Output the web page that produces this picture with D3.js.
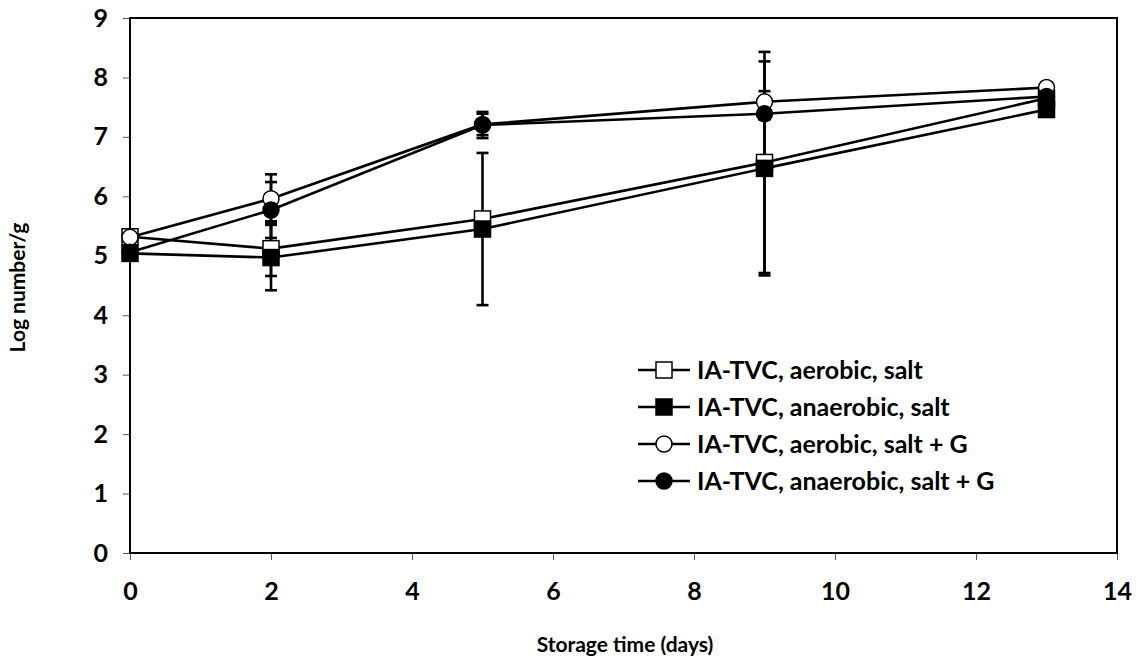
<!DOCTYPE html>
<html>
<head>
<meta charset="utf-8">
<script src="https://cdn.jsdelivr.net/npm/d3@7"></script>
<style>
  body { margin: 0; background: #fff; }
  svg text { font-family: Lato, "Open Sans", sans-serif; font-weight: 700; fill: #000; }
</style>
</head>
<body>
<svg id="chart" width="1138" height="660"></svg>
<script>
// Storage days sampled
const days = [0, 2, 5, 9, 13];

// Mean log counts (log number/g) per treatment
const aerobicSalt      = [5.32, 5.12, 5.62, 6.57, 7.65];
const anaerobicSalt    = [5.04, 4.97, 5.45, 6.47, 7.46];
const aerobicSaltG     = [5.31, 5.96, 7.21, 7.59, 7.83];
const anaerobicSaltG   = [5.06, 5.77, 7.20, 7.39, 7.68];

// Standard deviations (error bars)
const aerobicSaltErr    = [0.08, 0.46, 0.05, 1.86, 0.05];
const anaerobicSaltErr  = [0.05, 0.55, 1.28, 1.80, 0.05];
const aerobicSaltGErr   = [0.05, 0.41, 0.18, 0.18, 0.05];
const anaerobicSaltGErr = [0.05, 0.47, 0.22, 0.10, 0.05];

const seriesNames = [
  "IA-TVC, aerobic, salt",
  "IA-TVC, anaerobic, salt",
  "IA-TVC, aerobic, salt + G",
  "IA-TVC, anaerobic, salt + G"
];

const xTicks = [0, 2, 4, 6, 8, 10, 12, 14];
const yTicks = [0, 1, 2, 3, 4, 5, 6, 7, 8, 9];

const series = [
  { name: seriesNames[0], values: aerobicSalt,    err: aerobicSaltErr,    shape: "square", filled: false },
  { name: seriesNames[1], values: anaerobicSalt,  err: anaerobicSaltErr,  shape: "square", filled: true },
  { name: seriesNames[2], values: aerobicSaltG,   err: aerobicSaltGErr,   shape: "circle", filled: false },
  { name: seriesNames[3], values: anaerobicSaltG, err: anaerobicSaltGErr, shape: "circle", filled: true }
];

const svg = d3.select("#chart");
const plot = { left: 130, right: 1117, top: 18, bottom: 553 };

const x = d3.scaleLinear().domain([0, 14]).range([plot.left, plot.right]);
const y = d3.scaleLinear().domain([0, 9]).range([plot.bottom, plot.top]);

// Axes with outward ticks
const xAxis = svg.append("g")
  .attr("transform", `translate(0,${plot.bottom})`)
  .call(d3.axisBottom(x).tickValues(xTicks).tickSize(7).tickPadding(22).tickFormat(d3.format("d")));
const yAxis = svg.append("g")
  .attr("transform", `translate(${plot.left},0)`)
  .call(d3.axisLeft(y).tickValues(yTicks).tickSize(7).tickPadding(15).tickFormat(d3.format("d")));

[xAxis, yAxis].forEach(g => {
  g.select(".domain").remove();
  g.selectAll(".tick line").attr("stroke", "#555").attr("stroke-width", 1);
  g.selectAll(".tick text").style("font-size", "25px").style("font-family", "Lato, sans-serif").style("font-weight", 700);
});

// Plot frame
svg.append("rect")
  .attr("x", plot.left).attr("y", plot.top)
  .attr("width", plot.right - plot.left).attr("height", plot.bottom - plot.top)
  .attr("fill", "none").attr("stroke", "#000").attr("stroke-width", 2);

// Axis titles
svg.append("text")
  .attr("x", 625).attr("y", 652)
  .attr("text-anchor", "middle").style("font-size", "21px")
  .text("Storage time (days)");
svg.append("text")
  .attr("transform", `translate(25,${(plot.top + plot.bottom) / 2 + 2}) rotate(-90)`)
  .attr("text-anchor", "middle").style("font-size", "21px")
  .text("Log number/g");

const line = d3.line().x(d => x(d[0])).y(d => y(d[1]));
const stroke = 2.6;
const capHalf = 6;

// Connecting lines
series.forEach(s => {
  svg.append("path")
    .datum(days.map((d, i) => [d, s.values[i]]))
    .attr("d", line)
    .attr("fill", "none").attr("stroke", "#000").attr("stroke-width", stroke);
});

// Error bars
series.forEach(s => {
  const g = svg.append("g").attr("stroke", "#000").attr("stroke-width", stroke);
  days.forEach((d, i) => {
    const lo = s.values[i] - s.err[i], hi = s.values[i] + s.err[i];
    g.append("line").attr("x1", x(d)).attr("x2", x(d)).attr("y1", y(lo)).attr("y2", y(hi));
    [lo, hi].forEach(v => {
      g.append("line").attr("x1", x(d) - capHalf).attr("x2", x(d) + capHalf).attr("y1", y(v)).attr("y2", y(v));
    });
  });
});

function drawMarker(g, cx, cy, s, size) {
  const fill = s.filled ? "#000" : "#fff";
  if (s.shape === "square") {
    g.append("rect").attr("x", cx - size / 2).attr("y", cy - size / 2)
      .attr("width", size).attr("height", size)
      .attr("fill", fill).attr("stroke", "#000").attr("stroke-width", 1.5);
  } else {
    g.append("circle").attr("cx", cx).attr("cy", cy).attr("r", size / 2)
      .attr("fill", fill).attr("stroke", "#000").attr("stroke-width", 1.5);
  }
}

// Markers
series.forEach(s => {
  const g = svg.append("g");
  days.forEach((d, i) => drawMarker(g, x(d), y(s.values[i]), s, 16));
});

// Legend
const legend = svg.append("g");
const legX0 = 638, legX1 = 690, legY0 = 370, legDy = 37;
series.forEach((s, i) => {
  const ly = legY0 + i * legDy;
  legend.append("line").attr("x1", legX0).attr("x2", legX1).attr("y1", ly).attr("y2", ly)
    .attr("stroke", "#000").attr("stroke-width", stroke);
  drawMarker(legend, (legX0 + legX1) / 2, ly, s, 16);
  legend.append("text").attr("x", 697).attr("y", ly + 9).style("font-size", "25px").text(s.name);
});
</script>
</body>
</html>
